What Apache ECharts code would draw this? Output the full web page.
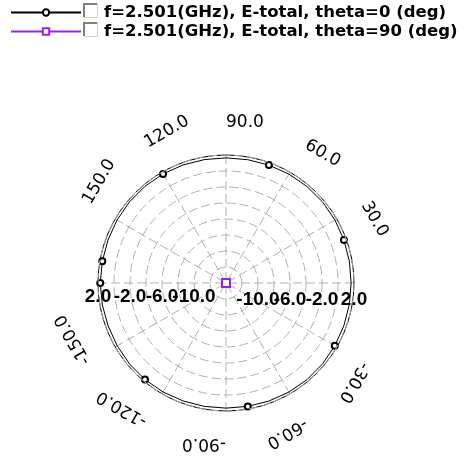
<!DOCTYPE html>
<html>
<head>
<meta charset="utf-8">
<style>
  html, body { margin: 0; padding: 0; background: #ffffff; }
  #chart { width: 474px; height: 461px; }
</style>
<script src="https://cdn.jsdelivr.net/npm/echarts@6/dist/echarts.min.js"></script>
</head>
<body>
<div id="chart"></div>
<script>
// Far-field cut, phi sweep in degrees
const phiDeg = [-180, -170, -160, -150, -140, -130, -120, -110, -100, -90,
                -80, -70, -60, -50, -40, -30, -20, -10, 0, 10,
                20, 30, 40, 50, 60, 70, 80, 90, 100, 110,
                120, 130, 140, 150, 160, 170, 180];

// E-total (dB) at theta = 0 deg
const eTotalTheta0 = [1.72, 1.70, 1.68, 1.70, 1.74, 1.76, 1.73, 1.69, 1.66, 1.64,
                      1.66, 1.70, 1.74, 1.76, 1.74, 1.70, 1.67, 1.65, 1.64, 1.66,
                      1.69, 1.73, 1.76, 1.75, 1.72, 1.68, 1.65, 1.64, 1.66, 1.70,
                      1.74, 1.77, 1.76, 1.73, 1.70, 1.70, 1.72];

// E-total (dB) at theta = 90 deg (sits at the bottom of the scale)
const eTotalTheta90 = [-14, -14, -14, -14, -14, -14, -14, -14, -14, -14,
                       -14, -14, -14, -14, -14, -14, -14, -14, -14, -14,
                       -14, -14, -14, -14, -14, -14, -14, -14, -14, -14,
                       -14, -14, -14, -14, -14, -14, -14];

const seriesNames = ['f=2.501(GHz), E-total, theta=0 (deg)',
                     'f=2.501(GHz), E-total, theta=90 (deg)'];

// Radial scale (dB): rings every 2, labels every 4
const radialMin = -14;
const radialMax = 2;
const radialStep = 2;
const radialLabelStep = 4;

// Angle labels drawn round the rim
const angleLabelValues = [-150, -120, -90, -60, -30, 30, 60, 90, 120, 150];

const CENTER = [226, 283];
const RADIUS = 128;
const MARK_EVERY = 5;
const PURPLE = '#a020e0';
const GRID = '#b0b0b0';

function toData(vals, sym) {
  return vals.map((v, i) => ({
    value: [v, phiDeg[i]],
    symbol: i % MARK_EVERY === 0 ? sym : 'none'
  }));
}

function radialLabel(v) {
  const k = Math.round(v - radialMin);
  if (k === 0 || k % radialLabelStep !== 0) return '';
  return v.toFixed(1);
}

const radialLabelStyle = {
  fontFamily: 'Liberation Sans', fontWeight: 'bold', fontSize: 19, color: '#000',
  formatter: radialLabel
};

function checkbox(y) {
  return {
    type: 'group', silent: true,
    children: [
      { type: 'rect', shape: { x: 83, y: y, width: 14, height: 14 }, style: { fill: '#ffffff' } },
      { type: 'polyline', shape: { points: [[84, y + 14], [84, y + 1], [97, y + 1]] },
        style: { stroke: '#808080', lineWidth: 2, fill: null } },
      { type: 'polyline', shape: { points: [[84, y + 14.5], [97.5, y + 14.5], [97.5, y]] },
        style: { stroke: '#d4d0c8', lineWidth: 1, fill: null } }
    ]
  };
}

const chart = echarts.init(document.getElementById('chart'), null, { renderer: 'canvas' });

chart.setOption({
  animation: false,
  backgroundColor: '#ffffff',
  legend: {
    orient: 'vertical', left: 10, top: 4, padding: 0, itemGap: 2,
    itemWidth: 70, itemHeight: 8, selectedMode: false,
    data: seriesNames,
    formatter: name => '{sp|}{t|' + name + '}',
    textStyle: {
      rich: {
        sp: { width: 18 },
        t: { fontFamily: 'DejaVu Sans', fontWeight: 'bold', fontSize: 16.5, color: '#000', lineHeight: 18 }
      }
    }
  },
  graphic: [checkbox(3), checkbox(22)],
  polar: [
    { center: CENTER, radius: RADIUS },
    { center: CENTER, radius: RADIUS }
  ],
  angleAxis: [
    {
      polarIndex: 0, type: 'value', min: -180, max: 180, interval: 30,
      startAngle: 180, clockwise: false,
      axisLine: { show: true, lineStyle: { color: '#000', width: 1 } },
      axisTick: { show: false },
      axisLabel: { show: false },
      splitLine: { show: true, lineStyle: { color: GRID, width: 1, type: [9, 4] } }
    },
    {
      polarIndex: 1, type: 'value', min: 0, max: 360, startAngle: 0, clockwise: false,
      show: false
    }
  ],
  radiusAxis: [
    {
      polarIndex: 0, type: 'value', min: radialMin, max: radialMax, interval: radialStep,
      axisLine: { show: false }, axisTick: { show: false },
      splitLine: { show: true, lineStyle: { color: GRID, width: 1, type: [9, 4] } },
      axisLabel: Object.assign({ margin: 4 }, radialLabelStyle),
      z: 4
    },
    {
      polarIndex: 1, type: 'value', min: radialMin, max: radialMax, interval: radialStep,
      axisLine: { show: false }, axisTick: { show: false },
      splitLine: { show: false },
      axisLabel: Object.assign({ margin: -26 }, radialLabelStyle),
      z: 4
    }
  ],
  series: [
    {
      name: seriesNames[0], type: 'line', coordinateSystem: 'polar', polarIndex: 0,
      data: toData(eTotalTheta0, 'emptyCircle'),
      symbol: 'emptyCircle', symbolSize: 6, showAllSymbol: true,
      lineStyle: { color: '#000', width: 1 },
      itemStyle: { color: '#000', borderWidth: 1 },
      z: 3
    },
    {
      name: seriesNames[1], type: 'line', coordinateSystem: 'polar', polarIndex: 0,
      data: toData(eTotalTheta90, 'emptyRect'),
      symbol: 'emptyRect', symbolSize: 8, showAllSymbol: true,
      lineStyle: { color: PURPLE, width: 1 },
      itemStyle: { color: PURPLE, borderWidth: 1.5 },
      z: 6
    },
    {
      type: 'custom', coordinateSystem: 'polar', polarIndex: 0, silent: true, z: 5,
      data: angleLabelValues.map(a => [radialMax, a]),
      renderItem(params, api) {
        const a = api.value(1);
        const edge = api.coord([radialMax, a]);
        const c = api.coord([radialMin, a]);
        const dx = edge[0] - c[0], dy = edge[1] - c[1];
        const len = Math.hypot(dx, dy);
        const off = len + 24;
        return {
          type: 'text',
          x: c[0] + dx / len * off,
          y: c[1] + dy / len * off,
          rotation: (a - 90) * Math.PI / 180,
          style: {
            text: a.toFixed(1), fontFamily: 'DejaVu Sans', fontSize: 17, fill: '#000',
            align: 'left', verticalAlign: 'bottom'
          }
        };
      }
    }
  ]
});
</script>
</body>
</html>
